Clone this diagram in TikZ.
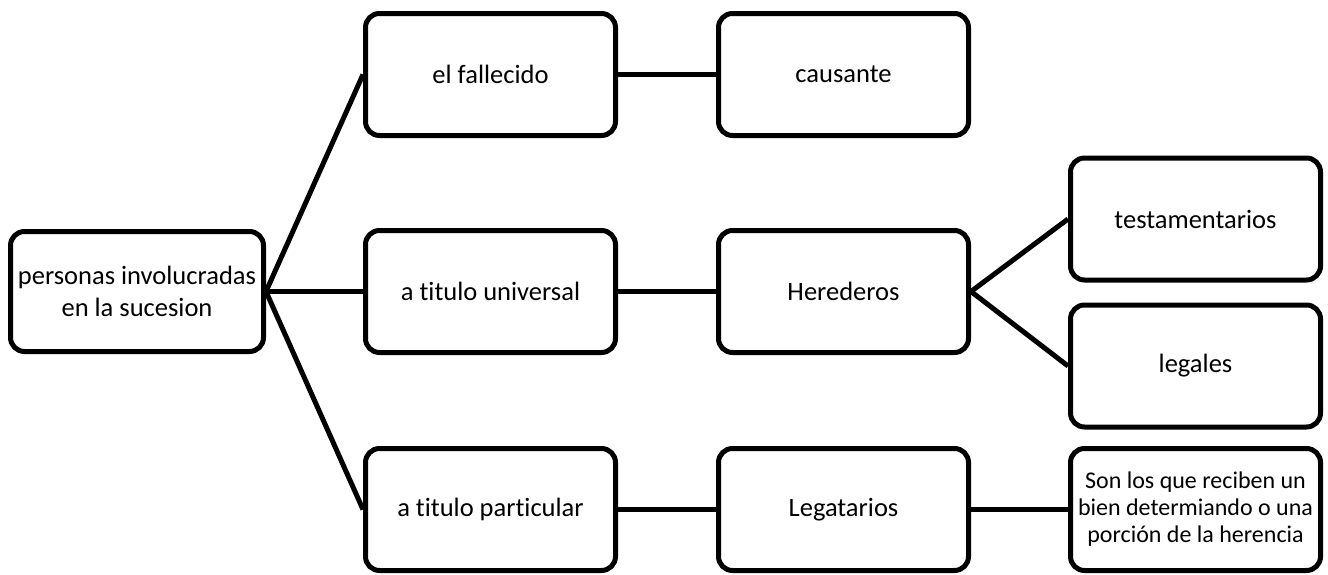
\documentclass[tikz,border=0pt]{standalone}
\usepackage{fontspec}
\setmainfont[Ligatures=NoCommon]{Carlito}
\begin{document}
\begin{tikzpicture}[x=1pt,y=-1pt,
  box/.style={draw=black,line width=5pt,rounded corners=14pt,rectangle,
    minimum width=250pt,minimum height=122pt,inner sep=0pt,align=center,
    font=\fontsize{26.5}{32}\selectfont},
  conn/.style={draw=black,line width=5pt}]
\useasboundingbox (0,0) rectangle (1328,574);
\node[box,minimum width=253pt,minimum height=120pt] (per) at (137,291.5) {personas involucradas\\en la sucesion};
\node[box] (fal) at (490.5,74.5) {el fallecido};
\node[box] (cau) at (843.5,74.5) {causante};
\node[box] (uni) at (490.5,291.5) {a titulo universal};
\node[box] (her) at (843.5,291.5) {Herederos};
\node[box] (tes) at (1195.5,219) {testamentarios};
\node[box] (leg) at (1195.5,366) {legales};
\node[box] (par) at (490.5,509.5) {a titulo particular};
\node[box] (lega) at (843.5,509.5) {Legatarios};
\node[box,font=\fontsize{24}{27}\selectfont] (son) at (1195.5,509.5) {Son los que reciben un\\bien determiando o una\\porción de la herencia};
\draw[conn] (per.east) -- (fal.west);
\draw[conn] (per.east) -- (uni.west);
\draw[conn] (per.east) -- (par.west);
\draw[conn] (fal.east) -- (cau.west);
\draw[conn] (uni.east) -- (her.west);
\draw[conn] (her.east) -- (tes.west);
\draw[conn] (her.east) -- (leg.west);
\draw[conn] (par.east) -- (lega.west);
\draw[conn] (lega.east) -- (son.west);
\end{tikzpicture}
\end{document}
